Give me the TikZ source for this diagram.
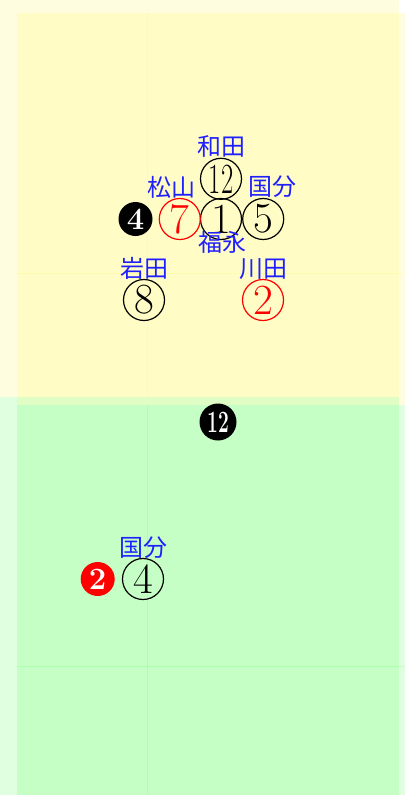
\documentclass[tikz,border=0pt]{standalone}
\usepackage{fontspec}
\usepackage{graphicx}
\usepackage{tikz}
\usetikzlibrary{positioning}
\newfontfamily\jpfont{Noto Sans CJK JP}
\definecolor{cLbl}{HTML}{2020FF}
\tikzset{
  x=1pt, y=1pt,
  lbl/.style    ={font=\jpfont\fontsize{24}{24}\selectfont, text=cLbl, inner sep=0pt},
  horse/.style  ={circle, draw=black, line width=1.2pt, minimum size=41pt, inner sep=0pt,
                  font=\fontsize{43}{43}\selectfont},
  horsered/.style={horse, draw=red, text=red},
  blk/.style    ={circle, fill=black, text=white, minimum size=34pt, inner sep=0pt,
                  font=\bfseries\fontsize{31}{31}\selectfont},
  blkred/.style ={blk, fill=red},
  gridln/.style ={line width=1pt, draw opacity=.12},
}
\begin{document}
\begin{tikzpicture}
  \useasboundingbox (0,0) rectangle (405,-795);
  % panels
  \fill[yellow,fill opacity=.12] (0,0) rectangle (399,-397);
  \fill[yellow,fill opacity=.12] (17,-13) rectangle (405,-405);
  \fill[green,fill opacity=.12] (0,-397) rectangle (399,-795);
  \fill[green,fill opacity=.12] (17,-405) rectangle (405,-795);
  \draw[gridln,yellow] (147,-13) -- (147,-397);\draw[gridln,yellow] (17,-273) -- (405,-273);
  \draw[gridln,green] (147,-405) -- (147,-795);\draw[gridln,green] (17,-666) -- (405,-666);
  % upper panel
  \node[horse] (h1) at (221,-219) {1};
  \node[horse,above=-2pt of h1] (h12) {\scalebox{.62}[1]{12}};
  \node[horse,right=0pt of h1] (h5) {5};
  \node[horsered,left=-1pt of h1] (h7) {7};
  \node[blk,left=6pt of h7] (b4) {4};
  \node[horse] (h8) at (144,-300) {8};
  \node[horsered] (h2) at (263,-300) {2};
  \node[lbl,above=0pt of h12] (wada) {和田};
  \node[lbl] (matsuyama) at (171,-187) {松山};
  \node[lbl] (kokubu) at (272,-187) {国分};
  \node[lbl] (fukunaga) at (222,-242) {福永};
  \node[lbl,above=-1pt of h8] (iwata) {岩田};
  \node[lbl,above=-1pt of h2] (kawada) {川田};
  % lower panel
  \node[blk,minimum size=37pt] (b12) at (218,-422) {\scalebox{.62}[1]{12}};
  \node[horse] (h4) at (143,-579) {4};
  \node[blkred,left=7pt of h4] (b2) {2};
  \node[lbl,above=-1pt of h4] (kokubu2) {国分};
\end{tikzpicture}
\end{document}
